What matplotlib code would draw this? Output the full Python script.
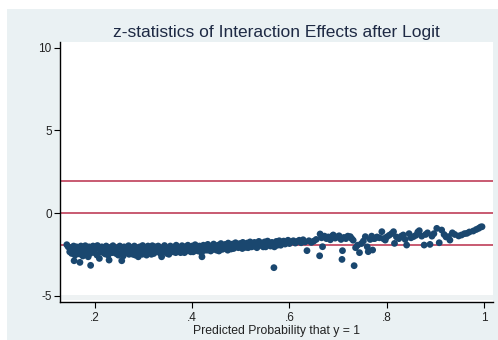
import matplotlib.pyplot as plt
from matplotlib.patches import Rectangle

prob = [0.142, 0.145, 0.148, 0.150, 0.153, 0.156, 0.157, 0.160, 0.162, 0.165,
        0.168, 0.169, 0.171, 0.174, 0.177, 0.180, 0.183, 0.186, 0.188, 0.191,
        0.193, 0.196, 0.199, 0.202, 0.205, 0.209, 0.211, 0.214, 0.217, 0.221,
        0.223, 0.226, 0.229, 0.231, 0.234, 0.237, 0.240, 0.243, 0.246, 0.248,
        0.251, 0.255, 0.257, 0.260, 0.263, 0.266, 0.269, 0.272, 0.275, 0.278,
        0.281, 0.284, 0.287, 0.289, 0.292, 0.295, 0.298, 0.301, 0.304, 0.306,
        0.309, 0.312, 0.315, 0.318, 0.321, 0.324, 0.327, 0.330, 0.333, 0.337,
        0.340, 0.343, 0.346, 0.349, 0.352, 0.355, 0.358, 0.361, 0.364, 0.367,
        0.370, 0.373, 0.376, 0.379, 0.382, 0.385, 0.388, 0.391, 0.394, 0.397,
        0.400, 0.403, 0.406, 0.409, 0.412, 0.415, 0.418, 0.420, 0.423, 0.426,
        0.429, 0.432, 0.435, 0.438, 0.441, 0.444, 0.447, 0.450, 0.453, 0.456,
        0.459, 0.462, 0.465, 0.468, 0.471, 0.474, 0.477, 0.480, 0.483, 0.486,
        0.489, 0.492, 0.495, 0.498, 0.501, 0.504, 0.507, 0.510, 0.513, 0.516,
        0.519, 0.522, 0.525, 0.528, 0.531, 0.534, 0.537, 0.540, 0.543, 0.546,
        0.549, 0.552, 0.555, 0.558, 0.561, 0.564, 0.568, 0.570, 0.573, 0.576,
        0.579, 0.582, 0.585, 0.588, 0.591, 0.594, 0.597, 0.600, 0.604, 0.608,
        0.612, 0.616, 0.620, 0.624, 0.628, 0.632, 0.636, 0.640, 0.645,
        0.650, 0.655, 0.662, 0.663, 0.666, 0.668, 0.672, 0.676, 0.680, 0.684,
        0.688, 0.690, 0.694, 0.698, 0.702, 0.706, 0.708, 0.709, 0.712, 0.716,
        0.720, 0.725, 0.728, 0.731, 0.733, 0.736, 0.740, 0.744, 0.748, 0.752,
        0.756, 0.760, 0.762, 0.766, 0.769, 0.771, 0.774, 0.776, 0.780, 0.785,
        0.790, 0.793, 0.797, 0.800, 0.805, 0.810, 0.814, 0.816, 0.820, 0.825,
        0.830, 0.834, 0.838, 0.841, 0.846, 0.850, 0.855, 0.860, 0.864, 0.867,
        0.872, 0.877, 0.880, 0.884, 0.889, 0.893, 0.897, 0.903, 0.908, 0.913,
        0.918, 0.922, 0.927, 0.930, 0.935, 0.940, 0.948, 0.954, 0.960, 0.965,
        0.970, 0.978, 0.984, 0.989, 0.993, 0.996,
        0.152, 0.159, 0.166, 0.175, 0.182, 0.190, 0.198, 0.204, 0.212, 0.219,
        0.227, 0.235, 0.242, 0.250, 0.258, 0.264, 0.270, 0.277, 0.283, 0.290,
        0.297, 0.303, 0.310, 0.316, 0.323, 0.329, 0.335, 0.342, 0.348, 0.354,
        0.360, 0.366, 0.372, 0.378, 0.384, 0.390, 0.396, 0.402, 0.408, 0.414,
        0.419, 0.425, 0.431, 0.437, 0.443, 0.449, 0.455, 0.461, 0.467, 0.473,
        0.479, 0.485, 0.491, 0.497, 0.503, 0.509, 0.515, 0.521, 0.527, 0.533,
        0.539, 0.545, 0.551, 0.557, 0.563, 0.569, 0.575]
zstat = [-1.92, -2.05, -2.35, -2.20, -2.10, -2.00, -2.89, -2.30, -2.05, -2.15,
         -2.48, -2.99, -2.00, -2.25, -2.10, -1.98, -2.35, -2.65, -2.05, -3.17,
         -2.20, -2.00, -2.40, -2.10, -1.97, -2.75, -2.25, -2.05, -2.40, -2.48,
         -2.00, -2.15, -2.85, -2.30, -2.05, -1.98, -2.20, -2.45, -2.10, -2.55,
         -2.00, -2.89, -2.30, -2.05, -2.18, -2.40, -1.98, -2.25, -2.10, -2.50,
         -2.00, -2.30, -2.15, -2.65, -2.05, -2.40, -1.97, -2.22, -2.10, -2.55,
         -2.00, -2.35, -2.15, -1.98, -2.45, -2.05, -2.25, -2.00, -2.40, -2.65,
         -2.10, -1.97, -2.30, -2.15, -2.50, -2.00, -2.20, -2.35, -2.05, -1.95,
         -2.25, -2.10, -2.40, -1.98, -2.20, -2.05, -2.30, -1.95, -2.15, -2.35,
         -2.00, -2.20, -1.92, -2.10, -2.30, -2.00, -2.15, -2.65, -1.95, -2.25,
         -2.05, -1.90, -2.15, -2.30, -2.00, -1.88, -2.10, -2.25, -1.95, -2.05,
         -1.85, -2.20, -2.00, -1.90, -2.12, -1.82, -2.00, -2.18, -1.88, -2.05,
         -1.80, -1.95, -2.10, -1.85, -2.00, -1.78, -1.92, -2.08, -1.82, -1.95,
         -1.75, -2.05, -1.88, -1.78, -1.98, -1.85, -1.72, -1.95, -1.82, -2.05,
         -1.75, -1.90, -1.70, -1.85, -2.00, -1.78, -3.31, -1.95, -1.72, -1.85,
         -1.68, -1.95, -1.80, -1.70, -1.88, -1.75, -1.65, -1.85, -1.75, -1.68,
         -1.82, -1.72, -1.65, -1.80, -1.62, -1.75, -2.28, -1.68, -1.78,
         -1.70, -1.60, -2.59, -1.27, -1.50, -2.04, -1.40, -1.55, -1.45, -1.62,
         -1.40, -1.33, -1.52, -1.45, -1.38, -1.60, -2.81, -2.28, -1.48, -1.55,
         -1.40, -1.43, -1.55, -1.65, -3.19, -2.10, -1.95, -2.40, -1.85, -1.70,
         -1.43, -2.05, -2.34, -1.60, -1.40, -2.24, -1.55, -1.53, -1.45, -1.50,
         -1.13, -1.55, -1.64, -1.45, -1.35, -1.25, -1.13, -1.84, -1.45, -1.55,
         -1.40, -1.33, -1.60, -1.94, -1.25, -1.50, -1.43, -1.35, -1.15, -1.07,
         -1.40, -1.94, -1.30, -1.20, -1.90, -1.40, -1.25, -0.93, -1.80, -1.03,
         -1.30, -1.45, -1.43, -1.64, -1.20, -1.30, -1.39, -1.33, -1.25, -1.23,
         -1.15, -1.09, -1.00, -0.93, -0.85, -0.83,
         -2.45, -2.55, -2.35, -2.60, -2.20, -2.45, -2.25, -2.55, -2.35, -2.20,
         -2.55, -2.40, -2.30, -2.45, -2.60, -2.30, -2.50, -2.35, -2.55, -2.30,
         -2.50, -2.40, -2.25, -2.50, -2.35, -2.20, -2.45, -2.30, -2.45, -2.30,
         -2.15, -2.40, -2.30, -2.20, -2.40, -2.25, -2.10, -2.35, -2.25, -2.15,
         -2.40, -2.10, -2.25, -2.05, -2.20, -2.10, -2.30, -2.05, -2.15, -2.25,
         -2.05, -2.15, -2.05, -1.95, -2.15, -1.95, -2.10, -1.90, -2.00, -2.10,
         -1.85, -1.95, -2.05, -1.80, -1.90, -2.05, -1.95]

ref_lines = [1.96, 0, -1.96]
xticks = [0.2, 0.4, 0.6, 0.8, 1.0]
xtick_labels = ['.2', '.4', '.6', '.8', '1']
yticks = [10, 5, 0, -5]

plt.rcParams['font.family'] = ['Liberation Sans', 'DejaVu Sans']
plt.rcParams['axes.unicode_minus'] = False

fig = plt.figure(figsize=(4.98, 3.40), dpi=100, facecolor='white')
# light bluish graph region behind the plot area
fig.patches.append(Rectangle((7 / 498, 0), 1, 331 / 340, transform=fig.transFigure,
                             facecolor='#eaf1f3', edgecolor='none', zorder=-10))

ax = fig.add_axes([60 / 498, 38 / 340, 432.7 / 498, 260 / 340])
ax.set_zorder(5)
ax.set_facecolor('white')
ax.axhspan(-5.27, -4.97, color='#eef2f3', lw=0, zorder=0)

for y in ref_lines:
    ax.axhline(y, color='#b92e4a', lw=1.1, zorder=1)
ax.scatter(prob, zstat, s=24, color='#1a476f', edgecolors='none', zorder=2)

ax.set_xlim(0.128, 1.018)
ax.set_ylim(-5.39, 10.36)
ax.set_xticks(xticks)
ax.set_xticklabels(xtick_labels)
ax.set_yticks(yticks)
ax.tick_params(direction='out', length=4, width=0.8, labelsize=8.5, pad=2, colors='black')
ax.tick_params(axis='x', pad=3)
ax.tick_params(labelcolor='#222222')
for side in ['top', 'right']:
    ax.spines[side].set_visible(False)
for side in ['left', 'bottom']:
    ax.spines[side].set_linewidth(1.0)

ax.set_xlabel('Predicted Probability that y = 1', fontsize=8.8, labelpad=1, color='#222222')
fig.text(276 / 498, 1 - 33 / 340, 'z-statistics of Interaction Effects after Logit',
         ha='center', va='center', fontsize=12.5, color='#1e2a44', zorder=6)

fig.savefig('out.png', dpi=100)
